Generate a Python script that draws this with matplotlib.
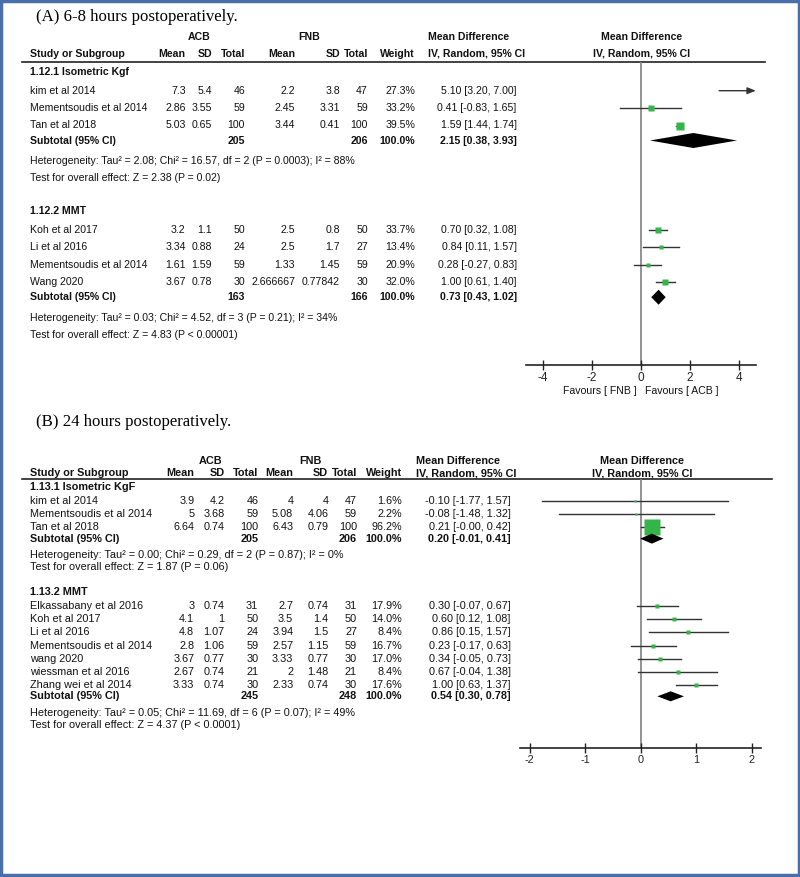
import matplotlib
matplotlib.use("Agg")
import matplotlib.pyplot as plt
from matplotlib.patches import Rectangle

# ---- panel A: 6-8 hours ----
a1_studies = ["kim et al 2014", "Mementsoudis et al 2014", "Tan et al 2018"]
a1_acb_mean = [7.3, 2.86, 5.03]
a1_acb_sd = [5.4, 3.55, 0.65]
a1_acb_n = [46, 59, 100]
a1_fnb_mean = [2.2, 2.45, 3.44]
a1_fnb_sd = [3.8, 3.31, 0.41]
a1_fnb_n = [47, 59, 100]
a1_weight = [27.3, 33.2, 39.5]
a1_md = [5.10, 0.41, 1.59]
a1_lo = [3.20, -0.83, 1.44]
a1_hi = [7.00, 1.65, 1.74]
a1_total = (205, 206)
a1_sub = (2.15, 0.38, 3.93)
a1_het = "Heterogeneity: Tau² = 2.08; Chi² = 16.57, df = 2 (P = 0.0003); I² = 88%"
a1_test = "Test for overall effect: Z = 2.38 (P = 0.02)"

a2_studies = ["Koh et al 2017", "Li et al 2016", "Mementsoudis et al 2014", "Wang 2020"]
a2_acb_mean = [3.2, 3.34, 1.61, 3.67]
a2_acb_sd = [1.1, 0.88, 1.59, 0.78]
a2_acb_n = [50, 24, 59, 30]
a2_fnb_mean = [2.5, 2.5, 1.33, 2.666667]
a2_fnb_sd = [0.8, 1.7, 1.45, 0.77842]
a2_fnb_n = [50, 27, 59, 30]
a2_weight = [33.7, 13.4, 20.9, 32.0]
a2_md = [0.70, 0.84, 0.28, 1.00]
a2_lo = [0.32, 0.11, -0.27, 0.61]
a2_hi = [1.08, 1.57, 0.83, 1.40]
a2_total = (163, 166)
a2_sub = (0.73, 0.43, 1.02)
a2_het = "Heterogeneity: Tau² = 0.03; Chi² = 4.52, df = 3 (P = 0.21); I² = 34%"
a2_test = "Test for overall effect: Z = 4.83 (P < 0.00001)"

# ---- panel B: 24 hours ----
b1_studies = ["kim et al 2014", "Mementsoudis et al 2014", "Tan et al 2018"]
b1_acb_mean = [3.9, 5, 6.64]
b1_acb_sd = [4.2, 3.68, 0.74]
b1_acb_n = [46, 59, 100]
b1_fnb_mean = [4, 5.08, 6.43]
b1_fnb_sd = [4, 4.06, 0.79]
b1_fnb_n = [47, 59, 100]
b1_weight = [1.6, 2.2, 96.2]
b1_md = [-0.10, -0.08, 0.21]
b1_lo = [-1.77, -1.48, -0.00]
b1_hi = [1.57, 1.32, 0.42]
b1_total = (205, 206)
b1_sub = (0.20, -0.01, 0.41)
b1_het = "Heterogeneity: Tau² = 0.00; Chi² = 0.29, df = 2 (P = 0.87); I² = 0%"
b1_test = "Test for overall effect: Z = 1.87 (P = 0.06)"

b2_studies = ["Elkassabany et al 2016", "Koh et al 2017", "Li et al 2016",
              "Mementsoudis et al 2014", "wang 2020", "wiessman et al 2016",
              "Zhang wei et al 2014"]
b2_acb_mean = [3, 4.1, 4.8, 2.8, 3.67, 2.67, 3.33]
b2_acb_sd = [0.74, 1, 1.07, 1.06, 0.77, 0.74, 0.74]
b2_acb_n = [31, 50, 24, 59, 30, 21, 30]
b2_fnb_mean = [2.7, 3.5, 3.94, 2.57, 3.33, 2, 2.33]
b2_fnb_sd = [0.74, 1.4, 1.5, 1.15, 0.77, 1.48, 0.74]
b2_fnb_n = [31, 50, 27, 59, 30, 21, 30]
b2_weight = [17.9, 14.0, 8.4, 16.7, 17.0, 8.4, 17.6]
b2_md = [0.30, 0.60, 0.86, 0.23, 0.34, 0.67, 1.00]
b2_lo = [-0.07, 0.12, 0.15, -0.17, -0.05, -0.04, 0.63]
b2_hi = [0.67, 1.08, 1.57, 0.63, 0.73, 1.38, 1.37]
b2_total = (245, 248)
b2_sub = (0.54, 0.30, 0.78)
b2_het = "Heterogeneity: Tau² = 0.05; Chi² = 11.69, df = 6 (P = 0.07); I² = 49%"
b2_test = "Test for overall effect: Z = 4.37 (P < 0.0001)"

GREEN = "#33b54a"
W, H = 800, 877

fig = plt.figure(figsize=(W / 100, H / 100), dpi=100)
page = fig.add_axes([0, 0, 1, 1])
page.set_xlim(0, W)
page.set_ylim(H, 0)
page.axis("off")
page.add_patch(Rectangle((1, 1), W - 2.5, H - 3, fill=False, edgecolor="#4a6ea9", lw=2.5))


def fmt_ci(m, lo, hi):
    return f"{m:.2f} [{lo:.2f}, {hi:.2f}]"


def draw_panel(cfg, groups):
    fam = cfg["family"]
    fs = cfg["fs"]
    cols = cfg["cols"]
    txt = dict(family=fam, fontsize=fs, va="center", color="#111111")
    bold = dict(txt, weight="bold")

    page.text(36, cfg["title_y"], cfg["title"], family="Liberation Serif",
              fontsize=12.1, va="center")

    # column headers
    hy = cfg["head_y"]
    page.text(cfg["acb_x"], hy - cfg["head_gap"], "ACB", ha="center", **bold)
    page.text(cfg["fnb_x"], hy - cfg["head_gap"], "FNB", ha="center", **bold)
    page.text(30, hy, "Study or Subgroup", ha="left", **bold)
    for key, lab in zip(["m1", "s1", "n1", "m2", "s2", "n2", "w"],
                        ["Mean", "SD", "Total", "Mean", "SD", "Total", "Weight"]):
        page.text(cols[key], hy, lab, ha="right", **bold)
    page.text(cfg["ci_head_x"], hy - cfg["head_gap"], "Mean Difference", ha="left", **bold)
    page.text(cfg["ci_head_x"], hy, "IV, Random, 95% CI", ha="left", **bold)
    page.text(642, hy - cfg["head_gap"], "Mean Difference", ha="center", **bold)
    page.text(642, hy, "IV, Random, 95% CI", ha="center", **bold)
    page.plot([22, cfg["line_x1"]], [cfg["line_y"], cfg["line_y"]], color="#222222", lw=1.2)

    # forest axes, x in effect units, y in page pixels
    zero, scale = 640.7, cfg["scale"]
    px0, px1 = 500, 785
    ax = fig.add_axes([px0 / W, 1 - cfg["axis_y"] / H, (px1 - px0) / W,
                       (cfg["axis_y"] - cfg["line_y"]) / H])
    ax.set_xlim((px0 - zero) / scale, (px1 - zero) / scale)
    ax.set_ylim(cfg["axis_y"], cfg["line_y"])
    ax.patch.set_alpha(0)
    for s in ["top", "left", "right"]:
        ax.spines[s].set_visible(False)
    ext = cfg["extent"]
    ax.spines["bottom"].set_bounds(-ext, ext)
    ax.spines["bottom"].set_color("#222222")
    ax.spines["bottom"].set_linewidth(1.2)
    ax.set_yticks([])
    ax.set_xticks(cfg["ticks"])
    ax.set_xticklabels([f"{t:g}" for t in cfg["ticks"]])
    ax.tick_params(axis="x", direction="inout", length=6.5, width=1, color="#222222",
                   pad=1.5, labelsize=cfg["tick_fs"], labelcolor="#222222")
    for lab in ax.get_xticklabels():
        lab.set_family(fam)
    ax.axvline(0, color="#808080", lw=1.2, zorder=1)

    for g in groups:
        y = g["y0"]
        page.text(30, y, g["label"], ha="left", **bold)
        ys = [g["y0"] + g["gap"] + i * cfg["row"] for i in range(len(g["studies"]))]
        for i, yy in enumerate(ys):
            page.text(30, yy, g["studies"][i], ha="left", **txt)
            vals = [g["m1"][i], g["s1"][i], g["n1"][i], g["m2"][i], g["s2"][i], g["n2"][i]]
            for key, v in zip(["m1", "s1", "n1", "m2", "s2", "n2"], vals):
                page.text(cols[key], yy, str(v), ha="right", **txt)
            page.text(cols["w"], yy, f"{g['w'][i]:.1f}%", ha="right", **txt)
            page.text(cols["ci"], yy, fmt_ci(g["md"][i], g["lo"][i], g["hi"][i]), ha="right", **txt)

            lo, hi, md = g["lo"][i], g["hi"][i], g["md"][i]
            if hi > ext:
                ax.annotate("", xy=(ext, yy), xytext=(max(lo, -ext), yy),
                            arrowprops=dict(arrowstyle="-|>,head_length=0.5,head_width=0.2",
                                            color="#333333", lw=1, shrinkA=0, shrinkB=0))
            else:
                ax.plot([max(lo, -ext), hi], [yy, yy], color="#333333", lw=1, zorder=2)
            if -ext <= md <= ext:
                # square side grows with study weight
                side = 2 + 0.14 * g["w"][i]
                ax.plot(md, yy, marker="s", markersize=side * 0.72, color=GREEN,
                        mec="none", zorder=3)

        sy = ys[-1] + cfg["sub_gap"]
        page.text(30, sy, "Subtotal (95% CI)", ha="left", **bold)
        page.text(cols["n1"], sy, str(g["total"][0]), ha="right", **bold)
        page.text(cols["n2"], sy, str(g["total"][1]), ha="right", **bold)
        page.text(cols["w"], sy, "100.0%", ha="right", **bold)
        page.text(cols["ci"], sy, fmt_ci(*g["sub"]), ha="right", **bold)
        m, lo, hi = g["sub"]
        h = cfg["diamond_h"] / 2
        ax.fill([lo, m, hi, m], [sy, sy - h, sy, sy + h], color="black", lw=0, zorder=3)

        page.text(30, sy + cfg["het_gap"], g["het"], ha="left", **txt)
        page.text(30, sy + cfg["het_gap"] + cfg["test_gap"], g["test"], ha="left", **txt)

    if cfg.get("favours"):
        fy = cfg["axis_y"] + 26.5
        page.text(636.5, fy, "Favours [ FNB ]", ha="right", **txt)
        page.text(645, fy, "Favours [ ACB ]", ha="left", **txt)


def group(label, y0, gap, studies, m1, s1, n1, m2, s2, n2, w, md, lo, hi, total, sub, het, test):
    return dict(label=label, y0=y0, gap=gap, studies=studies, m1=m1, s1=s1, n1=n1,
                m2=m2, s2=s2, n2=n2, w=w, md=md, lo=lo, hi=hi, total=total, sub=sub,
                het=het, test=test)


# Arial Narrow look-alike is not installed, so panel A uses a smaller regular sans
narrow = ["Liberation Sans Narrow", "Liberation Sans"]

cfg_a = dict(family=narrow, fs=7.6, tick_fs=8.5, title="(A) 6-8 hours postoperatively.", title_y=17,
             head_y=54, head_gap=17, acb_x=199, fnb_x=309, ci_head_x=428,
             line_y=62, line_x1=765, axis_y=365, scale=24.5, extent=4.7,
             ticks=[-4, -2, 0, 2, 4], row=17.4, sub_gap=15, het_gap=20.5, test_gap=17,
             diamond_h=15, favours=True,
             cols=dict(m1=185.7, s1=212, n1=245, m2=295, s2=340, n2=368, w=415, ci=516.7))
groups_a = [
    group("1.12.1 Isometric Kgf", 71.7, 19, a1_studies, a1_acb_mean, a1_acb_sd, a1_acb_n,
          a1_fnb_mean, a1_fnb_sd, a1_fnb_n, a1_weight, a1_md, a1_lo, a1_hi,
          a1_total, a1_sub, a1_het, a1_test),
    group("1.12.2 MMT", 210.7, 19.3, a2_studies, a2_acb_mean, a2_acb_sd, a2_acb_n,
          a2_fnb_mean, a2_fnb_sd, a2_fnb_n, a2_weight, a2_md, a2_lo, a2_hi,
          a2_total, a2_sub, a2_het, a2_test),
]

cfg_b = dict(family="Liberation Sans", fs=7.8, tick_fs=7.8, title="(B) 24 hours postoperatively.",
             title_y=421.7, head_y=473.3, head_gap=12.6, acb_x=210.7, fnb_x=310, ci_head_x=416,
             line_y=479.3, line_x1=772, axis_y=748.3, scale=55.5, extent=2.17,
             ticks=[-2, -1, 0, 1, 2], row=13.17, sub_gap=11.3, het_gap=16.5, test_gap=11.7,
             diamond_h=10, favours=False,
             cols=dict(m1=194.3, s1=224.5, n1=258.3, m2=293.3, s2=328.3, n2=357, w=402, ci=510.7))
groups_b = [
    group("1.13.1 Isometric KgF", 487.3, 13.7, b1_studies, b1_acb_mean, b1_acb_sd, b1_acb_n,
          b1_fnb_mean, b1_fnb_sd, b1_fnb_n, b1_weight, b1_md, b1_lo, b1_hi,
          b1_total, b1_sub, b1_het, b1_test),
    group("1.13.2 MMT", 591.7, 14.3, b2_studies, b2_acb_mean, b2_acb_sd, b2_acb_n,
          b2_fnb_mean, b2_fnb_sd, b2_fnb_n, b2_weight, b2_md, b2_lo, b2_hi,
          b2_total, b2_sub, b2_het, b2_test),
]

draw_panel(cfg_a, groups_a)
draw_panel(cfg_b, groups_b)

fig.savefig("out.png", dpi=100)
